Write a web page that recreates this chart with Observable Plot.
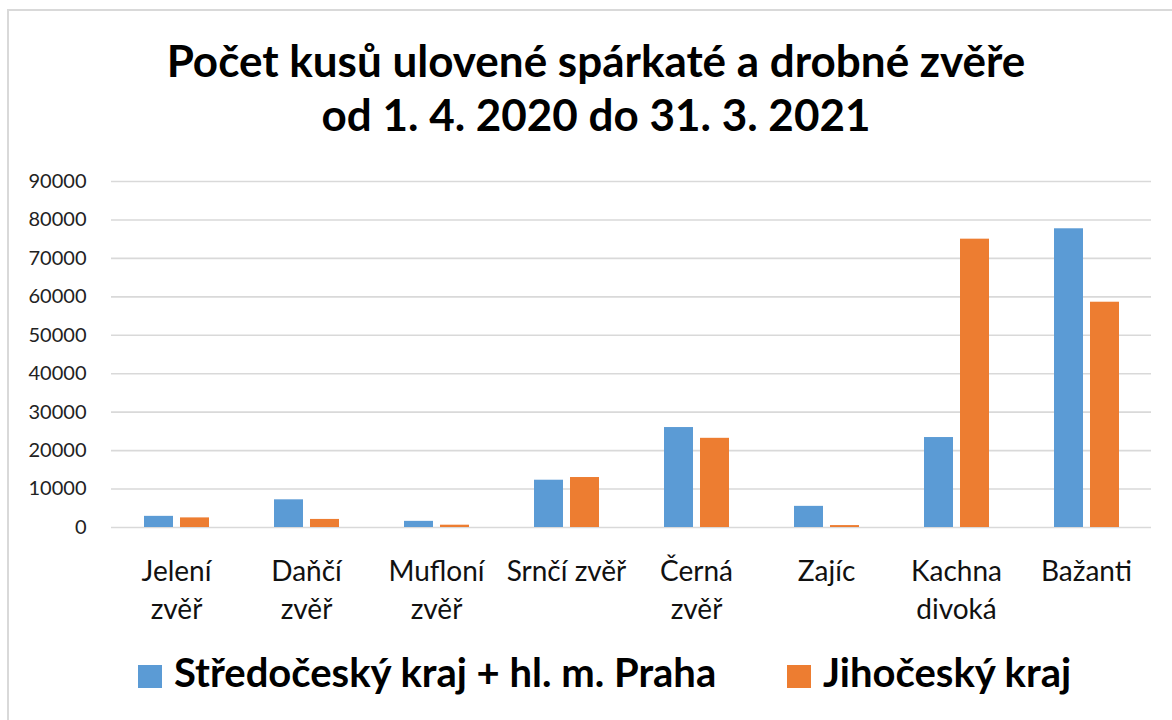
<!DOCTYPE html>
<html>
<head>
<meta charset="utf-8">
<script src="https://cdn.jsdelivr.net/npm/d3@7"></script>
<script src="https://cdn.jsdelivr.net/npm/@observablehq/plot@0.6"></script>
<style>
  html, body { margin: 0; padding: 0; background: #fff; overflow: hidden; }
  body { width: 1172px; height: 720px; position: relative; font-family: Lato, "Open Sans", sans-serif; }
  #frame { position: absolute; left: 7px; top: 9px; width: 1200px; height: 800px; border: 2px solid #d9d9d9; box-sizing: border-box; }
  .title { position: absolute; left: 0; width: 1192px; text-align: center; font-weight: 700; font-size: 44px; line-height: 54px; color: #000; white-space: nowrap; }
  #chart { position: absolute; left: 0; top: 150px; }
  .leg { position: absolute; top: 652px; height: 40px; line-height: 40px; font-weight: 700; font-size: 40px; color: #000; white-space: nowrap; }
  .sw { position: absolute; width: 24px; height: 23px; top: 665px; }
</style>
</head>
<body>
<div id="frame"></div>
<div class="title" style="top:33px">Počet kusů ulovené spárkaté a drobné zvěře</div>
<div class="title" style="top:87px">od 1. 4. 2020 do 31. 3. 2021</div>
<div id="chart"></div>
<div class="sw" id="sw0" style="left:138px"></div>
<div class="leg" id="lg0" style="left:174px"></div>
<div class="sw" id="sw1" style="left:787px"></div>
<div class="leg" id="lg1" style="left:823px"></div>
<script>
const categories = ["Jelení zvěř", "Daňčí zvěř", "Mufloní zvěř", "Srnčí zvěř", "Černá zvěř", "Zajíc", "Kachna divoká", "Bažanti"];
const tickLabels = ["Jelení\nzvěř", "Daňčí\nzvěř", "Mufloní\nzvěř", "Srnčí zvěř", "Černá\nzvěř", "Zajíc", "Kachna\ndivoká", "Bažanti"];
const series = ["Středočeský kraj + hl. m. Praha", "Jihočeský kraj"];
const stredocesky = [2900, 7200, 1600, 12300, 26000, 5500, 23400, 77700];
const jihocesky = [2500, 2100, 600, 13000, 23200, 500, 75000, 58600];
const colors = ["#5b9bd5", "#ed7d31"];
const yTicks = [0, 10000, 20000, 30000, 40000, 50000, 60000, 70000, 80000, 90000];

const data = [];
categories.forEach((c, i) => {
  data.push({cat: c, series: series[0], value: stredocesky[i]});
  data.push({cat: c, series: series[1], value: jihocesky[i]});
});

const chart = Plot.plot({
  width: 1172,
  height: 477,
  marginTop: 31,
  marginBottom: 100,
  marginLeft: 109,
  marginRight: 19,
  style: {fontFamily: "Lato, 'Open Sans', sans-serif", background: "transparent", overflow: "visible"},
  fx: {domain: categories, padding: 0, label: null},
  x: {domain: series, paddingInner: 0.2, paddingOuter: 0.86, axis: null},
  y: {domain: [0, 90000], label: null},
  color: {domain: series, range: colors},
  marks: [
    Plot.gridY(yTicks, {stroke: "#d9d9d9", strokeOpacity: 1, strokeWidth: 1.6}),
    Plot.barY(data, {fx: "cat", x: "series", y: "value", fill: "series"}),
    Plot.axisY(yTicks, {tickSize: 0, tickPadding: 25, tickFormat: d => String(d), fontSize: 20, fill: "#222", label: null}),
    Plot.axisFx({anchor: "bottom", tickSize: 0, tickPadding: 27, tickFormat: d => tickLabels[categories.indexOf(d)], fontSize: 28, lineHeight: 1.35, lineAnchor: "top", fill: "#111", label: null})
  ]
});
document.getElementById("chart").appendChild(chart);

series.forEach((s, i) => {
  document.getElementById("sw" + i).style.background = colors[i];
  document.getElementById("lg" + i).textContent = s;
});
</script>
</body>
</html>
